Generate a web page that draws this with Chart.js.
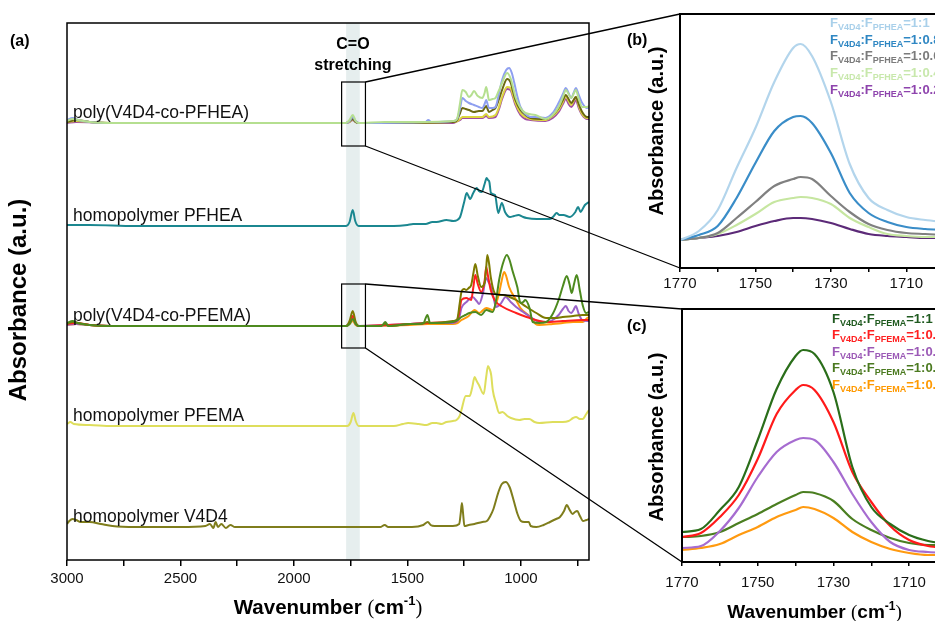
<!DOCTYPE html>
<html><head><meta charset="utf-8">
<script src="https://cdn.jsdelivr.net/npm/chart.js@4.4.1/dist/chart.umd.min.js"></script>
<style>
html,body{margin:0;padding:0;width:935px;height:621px;overflow:hidden;background:#fff;}
canvas{position:absolute;}
</style></head><body>
<canvas id="ca" width="600" height="621" style="left:0;top:0"></canvas>
<canvas id="cb" width="360" height="300" style="left:600px;top:0"></canvas>
<canvas id="cc" width="360" height="331" style="left:600px;top:290px"></canvas>
<canvas id="ov" width="935" height="621" style="left:0;top:0;pointer-events:none"></canvas>
<script>
// ---------- tick values ----------
const mainTicks = [3000,2750,2500,2250,2000,1750,1500,1250,1000,750];
const mainTickLabels = [3000,2500,2000,1500,1000];
const insetTicks = [1770,1760,1750,1740,1730,1720,1710,1700];
const insetTickLabels = [1770,1750,1730,1710];

// ---------- panel (a): spectra as [wavenumber, absorbance above own baseline] ----------
const groupLabels = ['poly(V4D4-co-PFHEA)','homopolymer PFHEA','poly(V4D4-co-PFEMA)','homopolymer PFEMA','homopolymer V4D4'];
const groupOffsets = [437, 334, 234, 134, 33];

const coPFHEA_a = [[3000,2],[2975,4],[2950,3],[2900,1],[2800,0],[2000,0],[1770,0],[1755,3],[1741,8],[1728,2],[1715,0],[1600,1],[1420,1],[1300,2],[1285,3],[1279,6],[1268,20],[1258,33],[1243,31],[1229,26],[1218,28],[1207,32],[1190,27],[1170,25],[1160,30],[1153,36],[1147,30],[1141,23],[1125,24],[1112,25],[1098,32],[1083,40],[1061,50],[1046,45],[1035,36],[1024,26],[1002,15],[980,10],[936,8],[892,4],[860,8],[834,16],[815,26],[802,33],[790,29],[778,25],[768,29],[758,33],[745,24],[730,16],[708,16],[700,17]];
const coPFHEA_b = [[3000,3],[2975,5],[2950,3],[2900,1],[2800,0],[2000,0],[1770,0],[1755,2],[1741,6],[1728,2],[1715,0],[1420,1],[1408,3],[1396,1],[1300,2],[1285,3],[1279,5],[1268,15],[1258,25],[1243,22],[1229,20],[1207,18],[1185,16],[1170,15],[1160,19],[1153,23],[1147,19],[1141,15],[1125,15],[1112,16],[1098,28],[1083,43],[1065,53],[1052,55],[1040,50],[1030,41],[1015,26],[1002,16],[980,9],[958,6],[936,6],[892,5],[860,10],[834,20],[815,29],[802,35],[790,30],[778,25],[768,30],[758,35],[745,28],[730,20],[708,15],[700,16]];
const coPFHEA_c = [[3000,1],[2960,3],[2900,1],[2800,0],[2000,0],[1770,0],[1755,2],[1741,4],[1728,1],[1715,0],[1300,1],[1285,2],[1279,4],[1268,10],[1258,15],[1243,14],[1229,13],[1207,11],[1185,12],[1170,12],[1160,15],[1153,17],[1147,14],[1141,11],[1125,13],[1112,15],[1098,23],[1083,33],[1061,44],[1046,41],[1035,32],[1024,23],[1002,13],[980,8],[958,5],[892,4],[860,8],[834,15],[815,23],[802,28],[790,24],[778,20],[768,23],[758,26],[745,19],[730,11],[708,6],[700,6]];
const coPFHEA_d = [[3000,1],[2960,2],[2900,1],[2800,0],[2000,0],[1770,0],[1755,1],[1741,4],[1728,1],[1715,0],[1300,1],[1279,2],[1268,4],[1258,6],[1230,6],[1207,6],[1170,6],[1153,9],[1141,6],[1112,8],[1098,15],[1083,26],[1061,36],[1046,35],[1035,28],[1024,20],[1002,10],[980,6],[958,4],[892,3],[860,7],[834,13],[815,21],[802,27],[790,22],[778,18],[768,22],[758,26],[745,17],[730,9],[708,5],[700,5]];
const coPFHEA_e = [[3000,0],[2960,1],[2800,0],[2000,0],[1770,0],[1755,1],[1741,3],[1728,1],[1715,0],[1300,0],[1279,2],[1268,3],[1258,5],[1207,5],[1170,5],[1153,7],[1141,5],[1112,6],[1098,13],[1083,24],[1061,34],[1046,33],[1035,26],[1024,18],[1002,8],[980,4],[958,3],[892,2],[860,5],[834,11],[815,19],[802,24],[790,19],[778,16],[768,19],[758,23],[745,15],[730,8],[708,4],[700,4]];

const homoPFHEA = [[3000,1],[2900,1],[2700,0],[2000,0],[1770,0],[1755,4],[1741,16],[1730,5],[1715,0],[1560,0],[1500,1],[1475,2],[1420,2],[1390,4],[1372,4],[1328,6],[1298,5],[1280,6],[1268,9],[1250,24],[1239,33],[1231,30],[1224,27],[1210,33],[1195,38],[1185,35],[1173,34],[1160,42],[1151,48],[1145,46],[1139,44],[1132,33],[1114,31],[1100,13],[1084,23],[1070,14],[1048,9],[1030,10],[1011,11],[990,9],[975,8],[930,7],[872,7],[855,10],[843,13],[830,11],[813,11],[784,9],[760,14],[748,19],[737,14],[728,17],[718,21],[700,24]];

const coPFEMA_a = [[3000,2],[2975,4],[2950,3],[2900,1],[2800,0],[2000,0],[1770,0],[1755,5],[1741,15],[1728,4],[1715,0],[1620,0],[1597,2],[1580,0],[1487,2],[1440,2],[1412,4],[1400,3],[1300,5],[1285,6],[1279,8],[1270,22],[1262,34],[1250,37],[1241,36],[1230,38],[1219,41],[1210,52],[1201,62],[1190,50],[1175,39],[1160,43],[1153,58],[1148,71],[1140,62],[1133,49],[1116,33],[1100,31],[1079,31],[1050,29],[1021,26],[975,19],[932,13],[889,8],[850,8],[816,9],[770,10],[728,11],[700,11]];
const coPFEMA_b = [[3000,2],[2960,3],[2900,1],[2800,0],[2000,0],[1770,0],[1755,3],[1741,10],[1728,3],[1715,0],[1600,1],[1487,2],[1412,3],[1300,4],[1279,6],[1270,16],[1262,26],[1241,28],[1219,26],[1210,38],[1201,51],[1190,42],[1175,34],[1160,45],[1153,59],[1145,50],[1133,36],[1116,26],[1079,19],[1021,13],[975,9],[889,4],[816,5],[728,6],[700,6]];
const coPFEMA_c = [[3000,1],[2960,2],[2900,1],[2800,0],[2000,0],[1770,0],[1755,3],[1741,8],[1728,2],[1715,0],[1487,2],[1412,3],[1300,3],[1279,5],[1270,10],[1262,18],[1240,24],[1213,29],[1195,25],[1184,22],[1168,32],[1153,48],[1143,44],[1133,40],[1120,28],[1110,19],[1090,22],[1067,29],[1045,24],[1021,19],[990,14],[958,9],[930,5],[889,4],[860,6],[834,11],[815,17],[802,20],[790,15],[778,13],[768,16],[758,20],[745,12],[730,6],[700,5]];
const coPFEMA_d = [[3000,3],[2975,5],[2955,3],[2900,1],[2800,0],[2000,0],[1770,0],[1755,2],[1741,7],[1728,2],[1715,0],[1615,0],[1597,4],[1585,0],[1487,2],[1430,3],[1412,11],[1400,3],[1300,4],[1279,6],[1262,9],[1245,11],[1227,13],[1201,14],[1175,11],[1153,16],[1124,14],[1110,25],[1096,46],[1080,62],[1062,71],[1050,66],[1038,56],[1016,39],[1002,23],[990,24],[981,26],[962,18],[948,4],[920,3],[889,4],[860,12],[834,26],[815,40],[798,50],[786,42],[776,33],[766,42],[754,51],[740,35],[728,21],[713,13],[700,14]];
const coPFEMA_e = [[3000,1],[2960,2],[2900,1],[2800,0],[2000,0],[1770,0],[1755,2],[1741,5],[1728,1],[1715,0],[1487,1],[1412,2],[1300,2],[1279,3],[1262,6],[1230,10],[1204,16],[1184,13],[1153,18],[1124,16],[1110,22],[1096,33],[1085,45],[1074,54],[1065,50],[1052,39],[1021,26],[1002,18],[958,9],[935,2],[920,1],[860,2],[816,3],[770,4],[728,4],[708,8],[700,9]];

const homoPFEMA = [[3000,2],[2985,4],[2970,2],[2900,1],[2800,0],[2200,0],[1800,0],[1765,0],[1750,4],[1738,13],[1728,5],[1715,0],[1560,0],[1520,2],[1497,3],[1450,2],[1416,1],[1390,3],[1372,3],[1350,2],[1328,4],[1300,5],[1284,6],[1270,10],[1262,16],[1243,30],[1226,30],[1215,38],[1204,49],[1195,45],[1185,41],[1164,32],[1153,49],[1145,60],[1138,57],[1131,51],[1124,36],[1110,23],[1096,13],[1081,14],[1060,10],[1044,8],[1007,6],[985,7],[963,7],[940,4],[919,3],[860,4],[816,4],[790,5],[770,8],[757,9],[740,7],[728,7],[712,12],[700,16]];

const homoV4D4 = [[3000,3],[2990,6],[2975,8],[2960,7],[2940,5],[2900,5],[2850,3],[2800,1],[2700,0],[2500,0],[2390,1],[2370,3],[2355,-1],[2345,5],[2335,0],[2320,3],[2300,-1],[2280,2],[2260,0],[2100,0],[1800,0],[1620,0],[1600,2],[1585,0],[1480,0],[1430,2],[1410,5],[1398,2],[1380,1],[1300,1],[1272,3],[1265,14],[1260,24],[1255,14],[1249,1],[1230,2],[1205,3],[1170,5],[1150,6],[1135,11],[1121,18],[1099,35],[1084,43],[1067,45],[1050,40],[1030,25],[1015,13],[1000,6],[985,5],[965,5],[957,1],[932,0],[900,2],[872,5],[845,8],[828,10],[810,16],[798,22],[785,17],[772,13],[762,15],[752,16],[740,11],[726,6],[712,7],[700,8]];

const groupSeries = [
  [coPFHEA_a, coPFHEA_b, coPFHEA_c, coPFHEA_d, coPFHEA_e],
  [homoPFHEA],
  [coPFEMA_d, coPFEMA_a, coPFEMA_b, coPFEMA_c, coPFEMA_e],
  [homoPFEMA],
  [homoV4D4]
];
const groupColors = [
  ['#b5df90','#8e9ff0','#6b6812','#dcd640','#a24ca4'],
  ['#1b8790'],
  ['#4d8a1f','#7d7a00','#ff1f1f','#9a62c8','#ff9a0a'],
  ['#dede5c'],
  ['#7f7d1c']
];

// zoom windows drawn in (a)
const zoomWn = [1790, 1685];
const zoomY = [[414, 478], [212, 276]];
const bandWn = [1770, 1710];

// ---------- panels (b) and (c) ----------
const insetWn = [1770,1765,1760,1755,1750,1745,1740,1738,1735,1730,1725,1720,1715,1710,1705,1700];
const b_11 = [28,37,58,100,140,186,220,224,212,166,104,70,58,51,48,46];
const b_08 = [28,33,42,70,105,137,151,152,145,115,75,55,46,41,39,38];
const b_06 = [28,30,35,50,66,82,89,91,89,72,56,44,38,35,34,33];
const b_04 = [28,30,34,43,54,66,70,71,70,64,50,41,34,32,31,31];
const b_02 = [28,30,32,36,42,47,50,50,49,45,39,34,32,31,30,30];
const c_11 = [30,33,52,75,122,173,206,212,208,170,95,55,38,27,21,18];
const c_08 = [25,29,45,67,103,148,172,177,172,140,90,60,36,22,16,14];
const c_06 = [14,16,31,54,85,110,122,124,122,100,68,40,20,12,10,9];
const c_04 = [25,26,30,39,48,58,67,70,69,61,43,32,24,19,17,17];
const c_02 = [12,14,18,27,35,45,52,55,53,44,30,20,13,9,7,7];
const ratios = ['1:1','1:0.8','1:0.6','1:0.4','1:0.2'];
const bLine = ['#b3d5ec','#3a8dc8','#808080','#c6e6a0','#5c2a78'];
const bText = ['#a9d0ea','#2f87c3','#7b7b7b','#c8e8ac','#8e44ad'];
const cLine = ['#2a6e1a','#ff1a1a','#a66cd0','#4a7e20','#ff9a10'];
const cText = ['#1f5a1f','#ff2020','#9b59b6','#4b7a20','#ff9900'];

// ---------- helpers ----------
const FAM = "'Liberation Sans', Arial, sans-serif";
function f(size, bold, fam) { return (bold ? 'bold ' : '') + size + 'px ' + (fam || FAM); }
function richWidth(ctx, parts) {
  let w = 0;
  parts.forEach(p => { ctx.font = f(p.s, p.b, p.fam); w += ctx.measureText(p.t).width; });
  return w;
}
function drawRich(ctx, x, y, parts, color) {
  ctx.textBaseline = 'alphabetic'; ctx.textAlign = 'left';
  parts.forEach(p => {
    ctx.font = f(p.s, p.b, p.fam); ctx.fillStyle = color;
    ctx.fillText(p.t, x, y + (p.dy || 0));
    x += ctx.measureText(p.t).width;
  });
}
function wavTitle(s) {
  return [
    {t:'Wavenumber ', s:s, b:true},
    {t:'(', s:s, b:false, fam:"'Liberation Serif', serif"},
    {t:'cm', s:s, b:true},
    {t:'-1', s:Math.round(s*0.63), b:true, dy:-Math.round(s*0.42)},
    {t:')', s:s, b:false, fam:"'Liberation Serif', serif"}
  ];
}
function drawVTitle(ctx, text, cx, cy, size) {
  ctx.save(); ctx.translate(cx, cy); ctx.rotate(-Math.PI/2);
  ctx.font = f(size, true); ctx.fillStyle = '#000'; ctx.textAlign = 'center'; ctx.textBaseline = 'middle';
  ctx.fillText(text, 0, 0); ctx.restore();
}
function legendParts(poly, ratio) {
  return [{t:'F', s:13, b:true},{t:'V4D4', s:9, b:true, dy:3},{t:':F', s:13, b:true},{t:poly, s:9, b:true, dy:3},{t:'='+ratio, s:13, b:true}];
}

// ---------- chart (a) ----------
const datasetsA = [];
groupSeries.forEach((grp, gi) => {
  grp.forEach((ser, si) => {
    datasetsA.push({
      data: ser.map(p => ({x: p[0], y: groupOffsets[gi] + p[1]})),
      borderColor: groupColors[gi][si], borderWidth: 2, showLine: true, pointRadius: 0,
      cubicInterpolationMode: 'monotone', fill: false
    });
  });
});

const plugA = {
  id: 'plugA',
  beforeDatasetsDraw(chart) {
    const {ctx, chartArea: a, scales: {x}} = chart;
    const x1 = x.getPixelForValue(bandWn[0]), x2 = x.getPixelForValue(bandWn[1]);
    ctx.save(); ctx.fillStyle = '#e6eeee'; ctx.fillRect(x1, a.top, x2 - x1, a.bottom - a.top); ctx.restore();
  },
  afterDatasetsDraw(chart) {
    const {ctx, scales: {x, y}} = chart;
    ctx.save(); ctx.strokeStyle = '#000'; ctx.lineWidth = 1.2;
    zoomY.forEach(r => {
      const x1 = x.getPixelForValue(zoomWn[0]), x2 = x.getPixelForValue(zoomWn[1]);
      const y1 = y.getPixelForValue(r[1]), y2 = y.getPixelForValue(r[0]);
      ctx.strokeRect(x1, y1, x2 - x1, y2 - y1);
    });
    ctx.restore();
  },
  afterDraw(chart) {
    const {ctx, chartArea: a, scales: {x, y}} = chart;
    ctx.save();
    ctx.strokeStyle = '#000'; ctx.lineWidth = 1.5;
    ctx.strokeRect(a.left, a.top, a.right - a.left, a.bottom - a.top);
    ctx.fillStyle = '#111'; ctx.font = f(17.5, false); ctx.textBaseline = 'alphabetic'; ctx.textAlign = 'left';
    groupLabels.forEach((t, i) => ctx.fillText(t, a.left + 6, y.getPixelForValue(groupOffsets[i]) - 5));
    const bx = (x.getPixelForValue(bandWn[0]) + x.getPixelForValue(bandWn[1])) / 2;
    ctx.fillStyle = '#000'; ctx.font = f(16, true); ctx.textAlign = 'center';
    ctx.fillText('C=O', bx, 49); ctx.fillText('stretching', bx, 70);
    ctx.textAlign = 'left'; ctx.font = f(16, true); ctx.fillText('(a)', 10, 46);
    const wt = wavTitle(20.5);
    const w = richWidth(ctx, wt);
    drawRich(ctx, (a.left + a.right) / 2 - w / 2, 614, wt, '#000');
    drawVTitle(ctx, 'Absorbance (a.u.)', 19, 300, 24);
    ctx.restore();
  }
};

const chartA = new Chart(document.getElementById('ca'), {
  type: 'scatter',
  data: {datasets: datasetsA},
  options: {
    responsive: false, animation: false, events: [],
    layout: {padding: {left: 0, right: 11, top: 23, bottom: 0}},
    plugins: {legend: {display: false}, tooltip: {enabled: false}},
    scales: {
      x: {type: 'linear', reverse: true, min: 700, max: 3000,
        afterBuildTicks: s => { s.ticks = mainTicks.map(v => ({value: v})); },
        afterFit: s => { s.height = 61; },
        ticks: {autoSkip: false, maxRotation: 0, padding: 4, color: '#111', font: {family: FAM, size: 15},
          callback: v => mainTickLabels.includes(v) ? String(v) : ''},
        grid: {display: true, drawOnChartArea: false, drawTicks: true, tickLength: 6, color: '#000', lineWidth: 1.5},
        border: {display: false}},
      y: {type: 'linear', min: 0, max: 537, afterFit: s => { s.width = 67; },
        ticks: {display: false}, grid: {display: false}, border: {display: false}}
    }
  },
  plugins: [plugA]
});

// ---------- inset factory ----------
function makeInset(id, series, lineColors, textColors, poly, opts) {
  const datasets = series.map((vals, i) => ({
    data: vals.map((v, k) => ({x: insetWn[k], y: v})),
    borderColor: lineColors[i], borderWidth: 2.2, showLine: true, pointRadius: 0,
    cubicInterpolationMode: 'monotone', fill: false
  }));
  const plug = {
    id: 'plug' + id,
    afterDraw(chart) {
      const {ctx, chartArea: a} = chart;
      ctx.save();
      ctx.strokeStyle = '#000'; ctx.lineWidth = 2;
      ctx.strokeRect(a.left, a.top, a.right - a.left, a.bottom - a.top);
      ctx.fillStyle = '#000'; ctx.font = f(16, true); ctx.textAlign = 'left'; ctx.textBaseline = 'alphabetic';
      ctx.fillText(opts.panel, 27, opts.panelY);
      drawVTitle(ctx, 'Absorbance (a.u.)', 57, opts.yTitleY, 20);
      ratios.forEach((r, i) => drawRich(ctx, opts.legX, opts.legY + i * opts.legStep, legendParts(poly, r), textColors[i]));
      if (opts.xTitle) {
        const wt = wavTitle(19);
        const w = richWidth(ctx, wt);
        drawRich(ctx, (a.left + a.right) / 2 - w / 2, opts.xTitleY, wt, '#000');
      }
      ctx.restore();
    }
  };
  return new Chart(document.getElementById(id), {
    type: 'scatter',
    data: {datasets},
    options: {
      responsive: false, animation: false, events: [],
      layout: {padding: {left: 0, right: opts.padR, top: opts.padT, bottom: 0}},
      plugins: {legend: {display: false}, tooltip: {enabled: false}},
      scales: {
        x: {type: 'linear', reverse: true, min: 1700, max: 1770,
          afterBuildTicks: s => { s.ticks = insetTicks.map(v => ({value: v})); },
          afterFit: s => { s.height = opts.xH; },
          ticks: {autoSkip: false, maxRotation: 0, padding: opts.tickPad, color: '#111', font: {family: FAM, size: 15},
            callback: v => insetTickLabels.includes(v) ? String(v) : ''},
          grid: {display: true, drawOnChartArea: false, drawTicks: true, tickLength: 4, color: '#000', lineWidth: 1.5},
          border: {display: false}},
        y: {type: 'linear', min: 0, max: opts.yMax, afterFit: s => { s.width = opts.yW; },
          ticks: {display: false}, grid: {display: false}, border: {display: false}}
      }
    },
    plugins: [plug]
  });
}

const chartB = makeInset('cb', [b_11, b_08, b_06, b_04, b_02], bLine, bText, 'PFHEA',
  {panel: '(b)', panelY: 45, yTitleY: 131, legX: 230, legY: 27, legStep: 16.7, xTitle: false,
   padR: 16, padT: 14, xH: 32, tickPad: 3, yMax: 254, yW: 80});
const chartC = makeInset('cc', [c_11, c_08, c_06, c_04, c_02], cLine, cText, 'PFEMA',
  {panel: '(c)', panelY: 41, yTitleY: 147, legX: 232, legY: 33, legStep: 16.4, xTitle: true, xTitleY: 328,
   padR: 13, padT: 19, xH: 59, tickPad: 8, yMax: 253, yW: 82});

// ---------- connector lines ----------
(function drawConnectors() {
  const ctx = document.getElementById('ov').getContext('2d');
  const {x, y} = chartA.scales;
  const rx = x.getPixelForValue(zoomWn[1]);
  const insets = [[chartB, 600, 0], [chartC, 600, 290]];
  ctx.strokeStyle = '#000'; ctx.lineWidth = 1.3;
  zoomY.forEach((r, i) => {
    const [ch, ox, oy] = insets[i];
    const a = ch.chartArea;
    ctx.beginPath();
    ctx.moveTo(rx, y.getPixelForValue(r[1])); ctx.lineTo(ox + a.left, oy + a.top);
    ctx.moveTo(rx, y.getPixelForValue(r[0])); ctx.lineTo(ox + a.left, oy + a.bottom);
    ctx.stroke();
  });
})();
</script>
</body></html>
